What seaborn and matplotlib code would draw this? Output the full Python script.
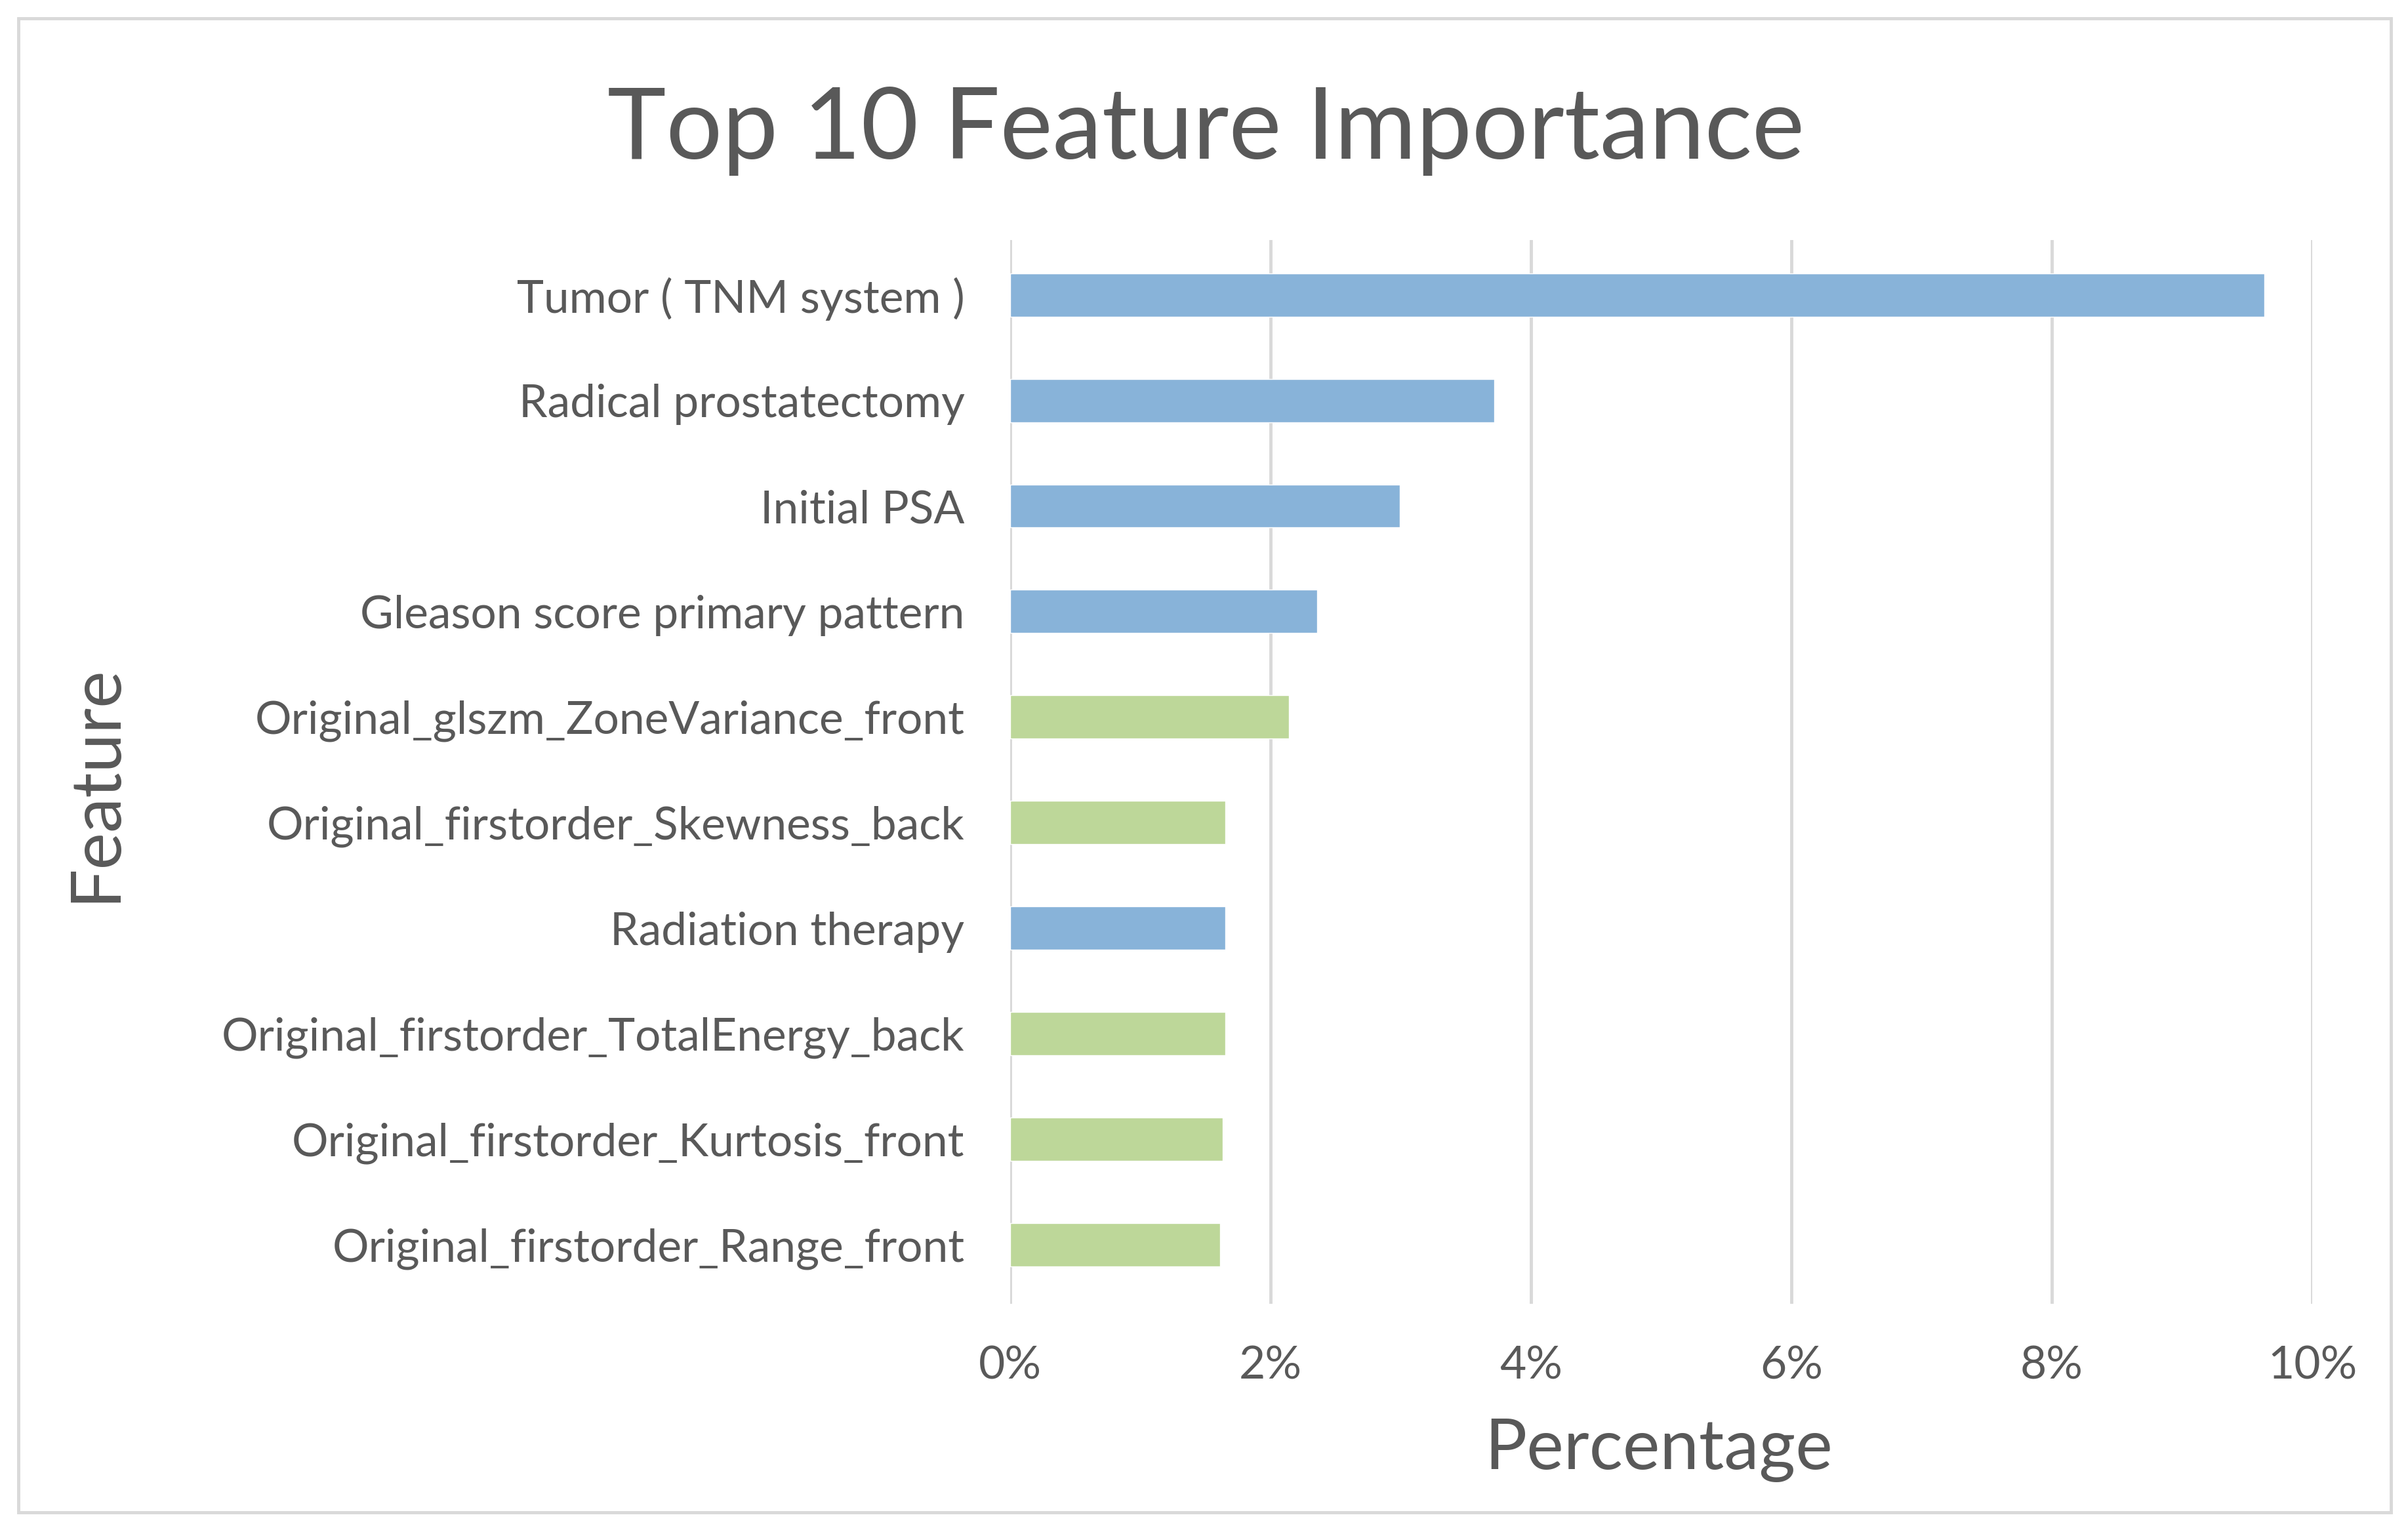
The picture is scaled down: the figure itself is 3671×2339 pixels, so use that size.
import matplotlib
matplotlib.use("Agg")
import matplotlib.pyplot as plt
import seaborn as sns
import pandas as pd
from matplotlib.patches import Rectangle
from matplotlib.ticker import FuncFormatter

features = [
    "Tumor ( TNM system )",
    "Radical prostatectomy",
    "Initial PSA",
    "Gleason score primary pattern",
    "Original_glszm_ZoneVariance_front",
    "Original_firstorder_Skewness_back",
    "Radiation therapy",
    "Original_firstorder_TotalEnergy_back",
    "Original_firstorder_Kurtosis_front",
    "Original_firstorder_Range_front",
]
importance = [9.63, 3.72, 2.99, 2.36, 2.14, 1.65, 1.65, 1.65, 1.63, 1.61]
group = ["Clinical", "Clinical", "Clinical", "Clinical", "Radiomics",
         "Radiomics", "Clinical", "Radiomics", "Radiomics", "Radiomics"]
x_ticks = [0, 2, 4, 6, 8, 10]

df = pd.DataFrame({"Feature": features, "Percentage": importance, "Group": group})

sns.set_theme(style="white")
plt.rcParams["font.family"] = ["Lato", "DejaVu Sans"]

W, H, DPI = 3671, 2339, 100
fig = plt.figure(figsize=(W / DPI, H / DPI), dpi=DPI)
ax = fig.add_axes([1540 / W, 1 - 1988 / H, (3525 - 1540) / W, (1988 - 366) / H])

sns.barplot(data=df, x="Percentage", y="Feature", hue="Group",
            palette={"Clinical": "#88B3D9", "Radiomics": "#BDD799"},
            dodge=False, legend=False, width=0.41, ax=ax, saturation=1)

ax.set_xlim(0, 10)
ax.set_ylim(9.56, -0.52)
ax.set_xticks(x_ticks)
ax.xaxis.set_major_formatter(FuncFormatter(lambda v, p: f"{v:.0f}%"))
ax.grid(axis="x", color="#D9D9D9", linewidth=3.5)
ax.grid(axis="y", visible=False)
ax.set_axisbelow(True)
for s in ax.spines.values():
    s.set_visible(False)
ax.tick_params(axis="y", length=0, labelsize=50, colors="#595959", pad=50)
ax.tick_params(axis="x", length=0, labelsize=50, colors="#595959", pad=46)
ax.set_xlabel("")
ax.set_ylabel("")

fig.text(0.6887, 0.0543, "Percentage", ha="center", va="center",
         fontsize=77, color="#595959")
fig.text(0.0396, 0.4896, "Feature", ha="center", va="center",
         rotation=90, fontsize=77, color="#595959")
fig.text(0.5007, 0.915, "Top 10 Feature Importance", ha="center", va="center",
         fontsize=109, color="#595959")

fig.patches.append(Rectangle((28 / W, 1 - 2306 / H), (3645 - 28) / W, (2306 - 28) / H,
                             transform=fig.transFigure, fill=False,
                             edgecolor="#D9D9D9", linewidth=3.5))

fig.savefig("out.png", dpi=DPI, facecolor="white")
